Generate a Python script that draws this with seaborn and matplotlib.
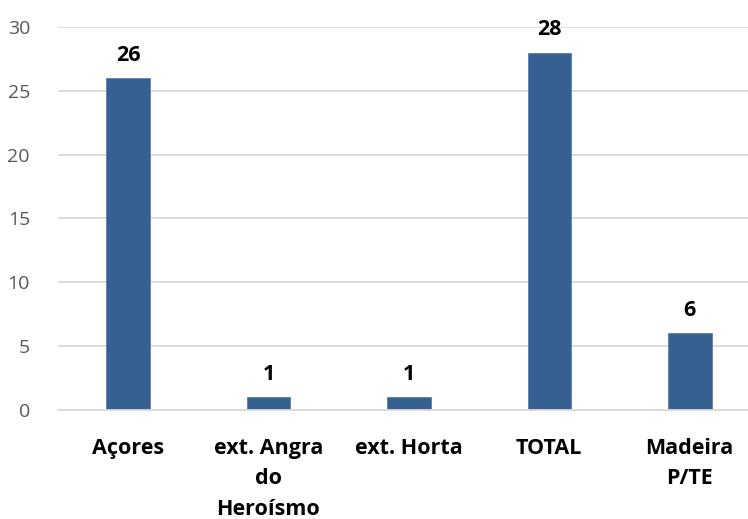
import matplotlib
matplotlib.use("Agg")
import matplotlib.pyplot as plt
import seaborn as sns
import pandas as pd

categories = ["Açores", "ext. Angra\ndo\nHeroísmo", "ext. Horta", "TOTAL", "Madeira\nP/TE"]
values = [26, 1, 1, 28, 6]
yticks = [0, 5, 10, 15, 20, 25, 30]

df = pd.DataFrame({"categoria": categories, "valor": values})

sns.set_theme(style="white")
plt.rcParams["font.family"] = ["Open Sans", "DejaVu Sans"]

fig = plt.figure(figsize=(7.48, 5.19), dpi=100)
ax = fig.add_axes([0.0772, 0.21, 0.9388, 0.738])

sns.barplot(data=df, x="categoria", y="valor", color="#376092", saturation=1,
            width=0.31, edgecolor="#5b7fae", linewidth=0.6, ax=ax)

ax.set_ylim(0, 30)
ax.set_yticks(yticks)
ax.set_xlim(-0.5, len(categories) - 0.5)
ax.grid(axis="y", color="#d9d9d9", linewidth=1.3)
ax.set_axisbelow(True)
for side in ["left", "right", "top"]:
    ax.spines[side].set_visible(False)
ax.spines["bottom"].set_color("#d9d9d9")
ax.spines["bottom"].set_linewidth(1.3)

ax.set_xlabel("")
ax.set_ylabel("")
ax.tick_params(axis="y", length=0, pad=20, labelsize=14, labelcolor="#595959")
ax.tick_params(axis="x", length=0, pad=20, labelsize=15.5)
for lab in ax.get_xticklabels():
    lab.set_fontweight("bold")
    lab.set_color("black")
    lab.set_linespacing(1.6)
    lab.set_verticalalignment("top")

for cont in ax.containers:
    ax.bar_label(cont, labels=[str(v) for v in values], padding=9,
                 fontsize=15.5, fontweight="bold", color="black")

fig.savefig("out.png", dpi=100)
